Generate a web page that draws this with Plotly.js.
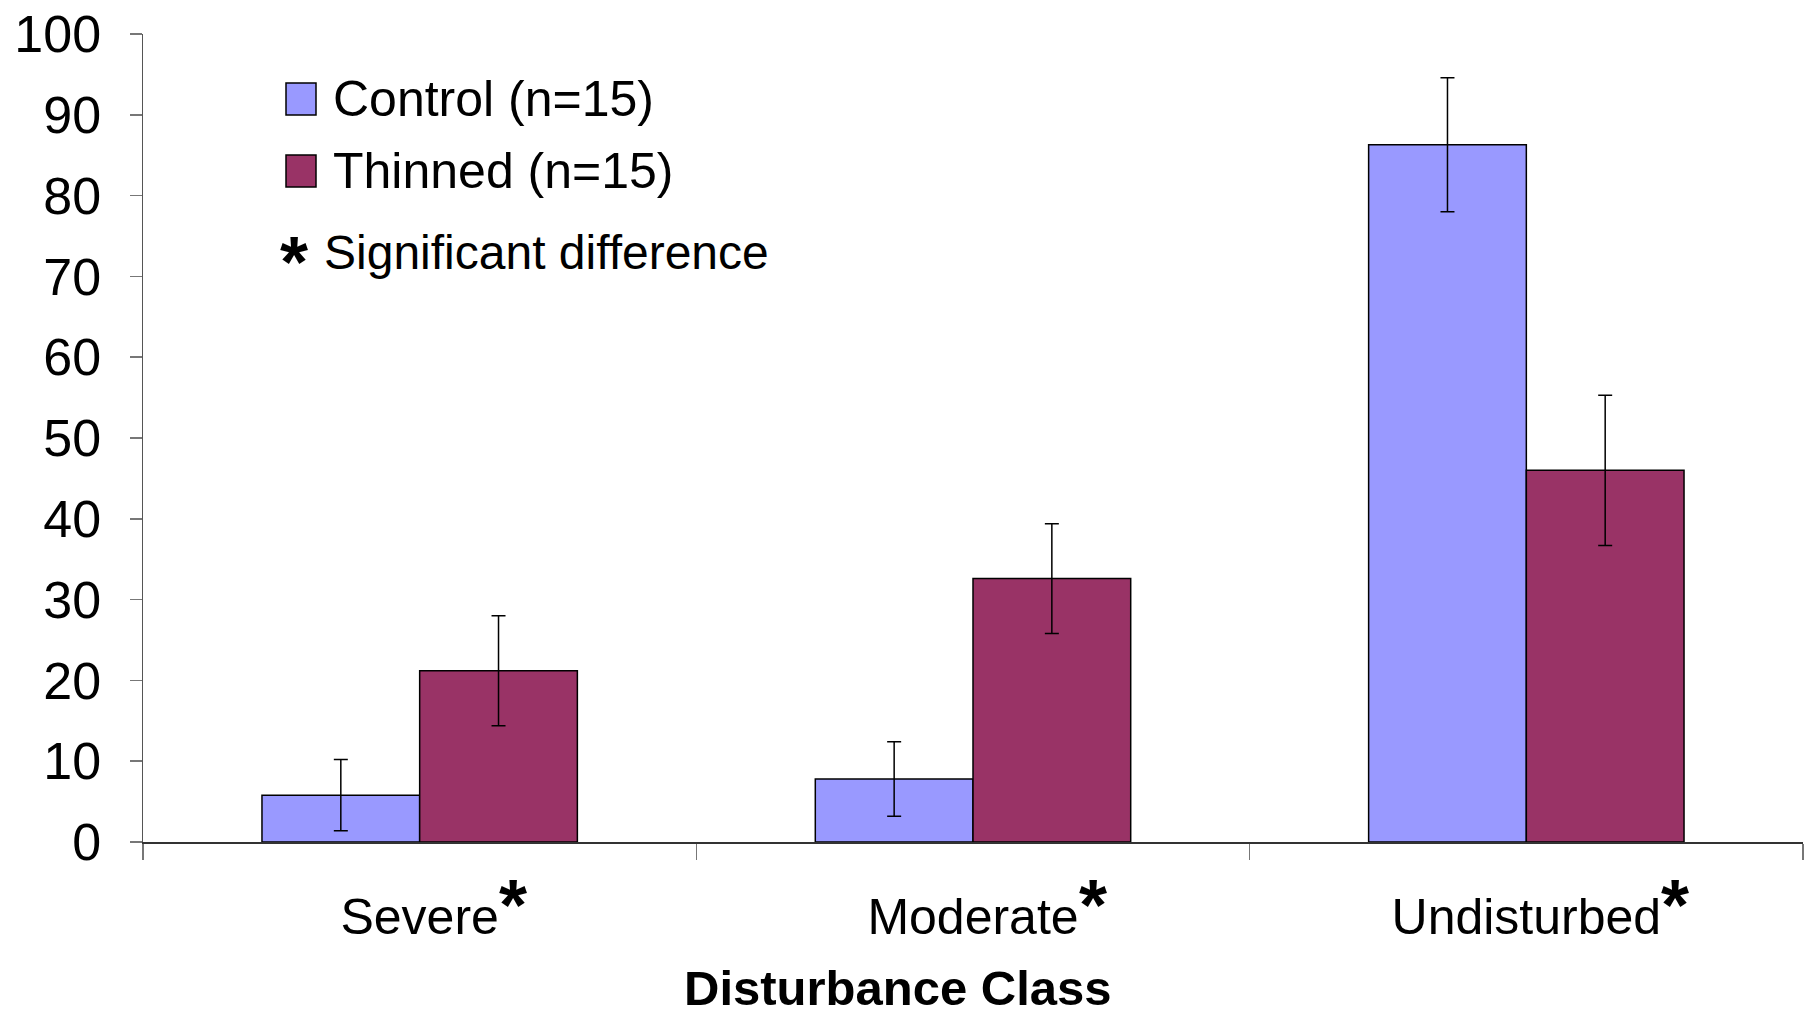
<!DOCTYPE html>
<html>
<head>
<meta charset="utf-8">
<script src="https://cdn.plot.ly/plotly-3.0.1.min.js"></script>
<style>html,body{margin:0;padding:0;background:#fff;}#chart{width:1814px;height:1021px;}</style>
</head>
<body>
<div id="chart"></div>
<script>
const categories = ["Severe", "Moderate", "Undisturbed"];
const controlValues = [5.8, 7.8, 86.3];
const controlErrors = [4.4, 4.6, 8.3];
const thinnedValues = [21.2, 32.6, 46.0];
const thinnedErrors = [6.8, 6.8, 9.3];
const yTickValues = [0, 10, 20, 30, 40, 50, 60, 70, 80, 90, 100];
const seriesNames = ["Control (n=15)", "Thinned (n=15)"];
const noteText = "Significant difference";
const xTitle = "Disturbance Class";
const significant = [true, true, true];

const FONT = "'Liberation Sans', Arial, sans-serif";
const W = 1814, H = 1021;
const M = {l: 143, r: 11, t: 34, b: 179};
const plotW = W - M.l - M.r, plotH = H - M.t - M.b;
const px2x = p => (p - M.l) / plotW;
const py2y = p => (H - M.b - p) / plotH;

const tickFontSize = 50;
function textWidth(txt, size, weight) {
  const c = document.createElement('canvas').getContext('2d');
  c.font = (weight || 'normal') + ' ' + size + 'px ' + FONT;
  return c.measureText(txt).width;
}

const traces = [
  {type: 'bar', name: seriesNames[0], x: categories, y: controlValues,
   marker: {color: '#9999FF', line: {color: '#000', width: 1.5}},
   error_y: {type: 'data', array: controlErrors, visible: true, color: '#000', thickness: 1.5, width: 7},
   showlegend: false, hoverinfo: 'x+y'},
  {type: 'bar', name: seriesNames[1], x: categories, y: thinnedValues,
   marker: {color: '#993366', line: {color: '#000', width: 1.5}},
   error_y: {type: 'data', array: thinnedErrors, visible: true, color: '#000', thickness: 1.5, width: 7},
   showlegend: false, hoverinfo: 'x+y'}
];

const annotations = [];
categories.forEach((c, i) => {
  if (!significant[i]) return;
  annotations.push({x: c, xref: 'x', y: 0, yref: 'y', xanchor: 'left', yanchor: 'top',
    xshift: textWidth(c, tickFontSize) / 2 - 2, yshift: -21, showarrow: false,
    text: '<b>*</b>', font: {family: FONT, size: 72, color: '#000'}});
});
annotations.push({x: px2x(898), xref: 'paper', y: py2y(988), yref: 'paper', xanchor: 'center', yanchor: 'middle',
  showarrow: false, text: '<b>' + xTitle + '</b>', font: {family: FONT, size: 49, color: '#000'}});

// custom legend
const legendRows = [{name: seriesNames[0], color: '#9999FF', yc: 99}, {name: seriesNames[1], color: '#993366', yc: 171}];
const shapes = [];
legendRows.forEach(r => {
  shapes.push({type: 'rect', xref: 'paper', yref: 'paper', x0: px2x(286), x1: px2x(316), y0: py2y(r.yc - 16), y1: py2y(r.yc + 16),
    fillcolor: r.color, line: {color: '#000', width: 1.5}});
  annotations.push({x: px2x(331), xref: 'paper', y: py2y(r.yc), yref: 'paper', xanchor: 'left', yanchor: 'middle',
    showarrow: false, text: r.name, font: {family: FONT, size: 50, color: '#000'}});
});
annotations.push({x: px2x(278), xref: 'paper', y: py2y(262), yref: 'paper', xanchor: 'left', yanchor: 'middle',
  showarrow: false, text: '<b>*</b>', font: {family: FONT, size: 72, color: '#000'}});
annotations.push({x: px2x(322), xref: 'paper', y: py2y(252), yref: 'paper', xanchor: 'left', yanchor: 'middle',
  showarrow: false, text: noteText, font: {family: FONT, size: 48, color: '#000'}});

const layout = {
  width: W, height: H,
  margin: M,
  paper_bgcolor: '#fff', plot_bgcolor: '#fff',
  barmode: 'group', bargap: 0.43, bargroupgap: 0,
  showlegend: false,
  font: {family: FONT, color: '#000'},
  xaxis: {type: 'category', tickson: 'boundaries', ticks: 'outside', ticklen: 16, tickwidth: 1.5, tickcolor: '#777',
    showline: true, linecolor: '#333', linewidth: 1.5, showgrid: false, zeroline: false,
    tickfont: {family: FONT, size: tickFontSize, color: '#000'}, ticklabelstandoff: 30},
  yaxis: {range: [0, 100], tickvals: yTickValues, ticktext: yTickValues.map(String), ticks: 'outside', ticklen: 12, tickwidth: 1.5, tickcolor: '#777',
    showline: true, linecolor: '#555', linewidth: 1.5, showgrid: false, zeroline: false, ticklabeloverflow: 'allow',
    tickfont: {family: FONT, size: 52, color: '#000'}, ticklabelstandoff: 18},
  shapes: shapes,
  annotations: annotations
};

Plotly.newPlot('chart', traces, layout, {displayModeBar: false, staticPlot: true});
</script>
</body>
</html>
